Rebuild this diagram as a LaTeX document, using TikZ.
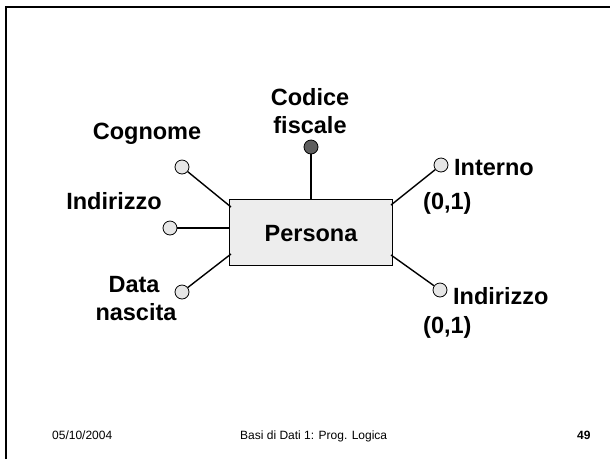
\documentclass[tikz,border=0pt]{standalone}
\usepackage{fontspec}
\setmainfont{Liberation Sans}
\definecolor{boxfill}{HTML}{EDEDED}
\definecolor{attrfill}{HTML}{E6E6E6}
\definecolor{keyfill}{HTML}{5E5E5E}
\begin{document}
\begin{tikzpicture}[x=1pt,y=-1pt,
  attr/.style={circle,draw=black,line width=0.8pt,fill=attrfill,minimum size=14pt,inner sep=0pt},
  keyattr/.style={attr,fill=keyfill},
  link/.style={line width=1.4pt},
  lbl/.style={font=\fontsize{23.5}{28}\selectfont\bfseries,inner sep=0pt,anchor=base},
  lbll/.style={lbl,anchor=base west},
  foot/.style={font=\fontsize{12}{14}\selectfont,inner sep=0pt,anchor=base west}]
\useasboundingbox (0,0) rectangle (610,459);
% slide frame
\draw[line width=2.5pt] (6,459) -- (6,7) -- (610,7);

% entity
\node[draw=black,line width=0.8pt,fill=boxfill,minimum width=163pt,minimum height=66pt,inner sep=0pt]
  (persona) at (310.5,232) {};
\node[lbl] (personaT) at (311,241.5) {Persona};

% attach points on the entity border
\coordinate (pNW) at (231,207);
\coordinate (pW) at (229,228);
\coordinate (pSW) at (231,254);
\coordinate (pNE) at (391,205);
\coordinate (pSE) at (391,255);
\coordinate (pN) at (311,199);

% attributes
\node[keyattr] (cod) at (311,147) {};
\node[attr] (cog) at (182,167) {};
\node[attr] (ind) at (170,228) {};
\node[attr] (dat) at (182,292) {};
\node[attr] (int) at (441,165) {};
\node[attr] (indr) at (440,290) {};

\draw[link] (cod) -- (pN);
\draw[link] (cog) -- (pNW);
\draw[link] (ind) -- (pW);
\draw[link] (dat) -- (pSW);
\draw[link] (int) -- (pNE);
\draw[link] (indr) -- (pSE);

% attribute labels
\node[lbl] (codT1) at (310,105) {Codice};
\node[lbl] (codT2) at (310,133) {fiscale};
\node[lbl] (cogT) at (147,139) {Cognome};
\node[lbl] (indT) at (114,209) {Indirizzo};
\node[lbl] (datT1) at (134,292) {Data};
\node[lbl] (datT2) at (136,320) {nascita};
\node[lbll] (intT) at (454,175) {Interno};
\node[lbll] (intC) at (423,209) {(0,1)};
\node[lbll] (indrT) at (453,304) {Indirizzo};
\node[lbll] (indrC) at (423,333) {(0,1)};

% footer
\node[foot] (date) at (52,439) {05/10/2004};
\node[foot] (title) at (240,439) {Basi di Dati 1: Prog. Logica};
\node[foot,font=\fontsize{12}{14}\selectfont\bfseries] (page) at (577,439) {49};
\end{tikzpicture}
\end{document}
